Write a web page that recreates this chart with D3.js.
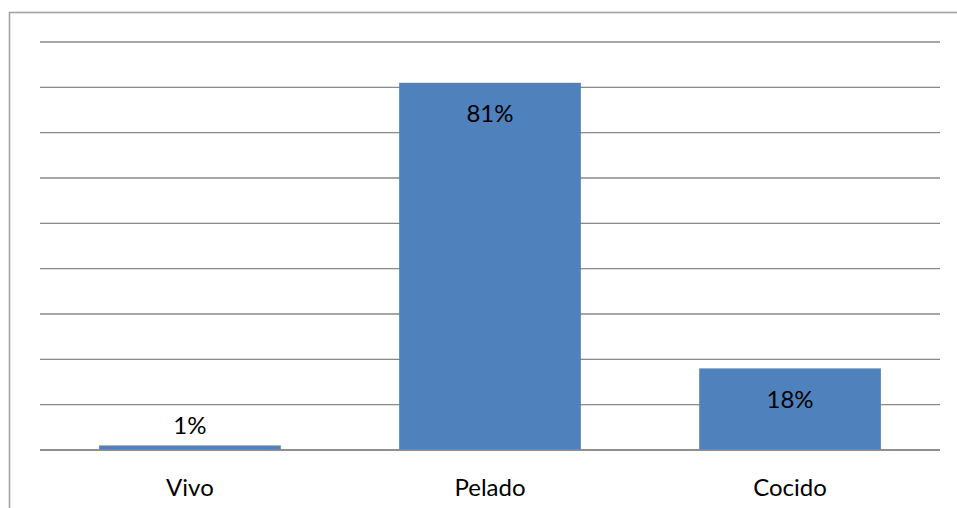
<!DOCTYPE html>
<html>
<head>
<meta charset="utf-8">
<script src="https://cdn.jsdelivr.net/npm/d3@7"></script>
<style>
  html, body { margin: 0; padding: 0; background: #fff; }
  svg { display: block; }
  text { font-family: Lato, "Open Sans", sans-serif; fill: #000; }
</style>
</head>
<body>
<svg id="chart" width="957" height="508"></svg>
<script>
// Share of product form
const categories = ["Vivo", "Pelado", "Cocido"];
const values = [1, 81, 18];
const yTicks = [0, 10, 20, 30, 40, 50, 60, 70, 80, 90];

const svg = d3.select("#chart");
const W = 957, H = 508;
const plot = { left: 40, right: 940, top: 42, bottom: 450 };

// Outer chart frame (extends past the right and bottom edges)
svg.append("rect")
  .attr("x", 9.5).attr("y", 12.5)
  .attr("width", W + 20).attr("height", H + 20)
  .attr("fill", "none")
  .attr("stroke", "#a3a3a3")
  .attr("stroke-width", 1.6);

const x = d3.scaleBand()
  .domain(categories)
  .range([plot.left, plot.right])
  .paddingInner(0.3945)
  .paddingOuter(0.197);

const y = d3.scaleLinear()
  .domain([0, 90])
  .range([plot.bottom, plot.top]);

// Horizontal gridlines
svg.append("g")
  .selectAll("line")
  .data(yTicks)
  .join("line")
  .attr("x1", plot.left).attr("x2", plot.right)
  .attr("y1", d => y(d)).attr("y2", d => y(d))
  .attr("stroke", "#888888")
  .attr("stroke-width", 1.4);

// Bars
svg.append("g")
  .selectAll("rect")
  .data(values)
  .join("rect")
  .attr("x", (d, i) => x(categories[i]))
  .attr("width", x.bandwidth())
  .attr("y", d => y(d))
  .attr("height", d => y(0) - y(d))
  .attr("fill", "#4F81BD");

// Baseline drawn over the bars
svg.append("line")
  .attr("x1", plot.left).attr("x2", plot.right)
  .attr("y1", y(0)).attr("y2", y(0))
  .attr("stroke", "#888888")
  .attr("stroke-width", 1.4);

// Value labels: inside the top of tall bars, above short ones
svg.append("g")
  .selectAll("text")
  .data(values)
  .join("text")
  .attr("x", (d, i) => x(categories[i]) + x.bandwidth() / 2)
  .attr("y", d => (y(0) - y(d) > 40 ? y(d) + 30 : y(d) - 21))
  .attr("text-anchor", "middle")
  .attr("dominant-baseline", "central")
  .attr("font-size", 24)
  .text(d => d + "%");

// Category labels
svg.append("g")
  .selectAll("text")
  .data(categories)
  .join("text")
  .attr("x", d => x(d) + x.bandwidth() / 2)
  .attr("y", 486)
  .attr("text-anchor", "middle")
  .attr("dominant-baseline", "central")
  .attr("font-size", 24)
  .text(d => d);
</script>
</body>
</html>
